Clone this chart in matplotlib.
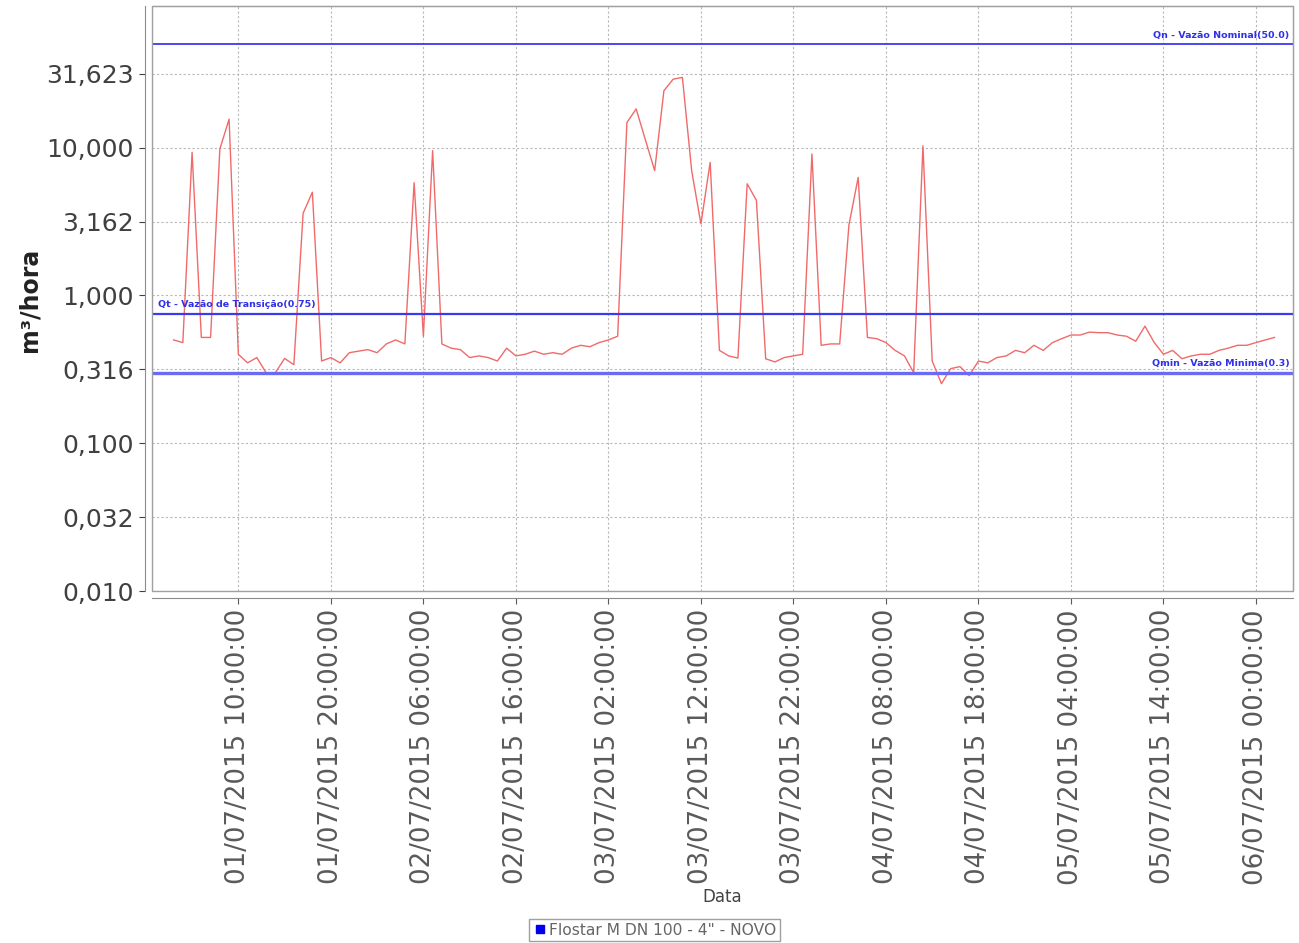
import matplotlib
matplotlib.use("Agg")
import matplotlib.pyplot as plt
import matplotlib.dates as mdates
from matplotlib.lines import Line2D
from matplotlib.patches import Rectangle
from matplotlib.ticker import FixedLocator, FuncFormatter, NullLocator
import pandas as pd

# Hourly flow readings (m³/h) starting 01/07/2015 03:00
first_reading = "2015-07-01 03:00"
flow = [
    0.50, 0.48, 9.3, 0.52, 0.52, 9.8, 15.6, 0.40, 0.35, 0.38,
    0.30, 0.30, 0.375, 0.34, 3.6, 5.0, 0.36, 0.38, 0.35, 0.41,
    0.42, 0.43, 0.41, 0.47, 0.50, 0.47, 5.8, 0.53, 9.55, 0.47,
    0.44, 0.43, 0.38, 0.39, 0.38, 0.36, 0.44, 0.39, 0.40, 0.42,
    0.40, 0.41, 0.40, 0.44, 0.46, 0.45, 0.48, 0.50, 0.53, 14.8,
    18.3, 11.3, 7.0, 24.3, 29.1, 29.9, 7.0, 3.05, 7.96, 0.425,
    0.39, 0.377, 5.7, 4.4, 0.373, 0.355, 0.38, 0.39, 0.40, 9.06,
    0.46, 0.47, 0.47, 3.0, 6.3, 0.52, 0.51, 0.48, 0.425, 0.39,
    0.30, 10.3, 0.36, 0.253, 0.32, 0.33, 0.287, 0.36, 0.35, 0.38,
    0.39, 0.425, 0.41, 0.46, 0.425, 0.48, 0.51, 0.54, 0.54, 0.565,
    0.56, 0.56, 0.54, 0.53, 0.49, 0.62, 0.48, 0.40, 0.425, 0.373,
    0.39, 0.40, 0.40, 0.425, 0.44, 0.46, 0.46, 0.48, 0.50, 0.52,
]

# Meter reference flows
ref_values = [50.0, 0.75, 0.3]
ref_labels = ["Qn - Vazão Nominal(50.0)",
              "Qt - Vazão de Transição(0.75)",
              "Qmin - Vazão Minima(0.3)"]

y_ticks = [0.01, 0.031623, 0.1, 0.316228, 1.0, 3.162278, 10.0, 31.622777]
x_ticks = pd.date_range("2015-07-01 10:00", "2015-07-06 00:00", freq="10h")
x_range = (pd.Timestamp("2015-07-01 00:40"), pd.Timestamp("2015-07-06 04:00"))
y_range = (0.01, 91.0)

series_name = 'Flostar M DN 100 - 4" - NOVO'

times = pd.date_range(first_reading, periods=len(flow), freq="h")

fig = plt.figure(figsize=(12.99, 9.43), dpi=100)
ax = fig.add_axes([152 / 1299, 1 - 591 / 943, 1141 / 1299, 585 / 943])

ax.plot(times, flow, color="#f06a6a", lw=1.0, zorder=3)

ax.set_yscale("log")
ax.set_ylim(*y_range)
ax.set_xlim(*x_range)

# reference lines with their captions
line_styles = [dict(color="#3a3af0", lw=1.3),
               dict(color="#3a3af0", lw=1.6),
               dict(color="#6a6af5", lw=2.4)]
for val, lab, st, pos in zip(ref_values, ref_labels, line_styles,
                             ["right", "left", "right"]):
    ax.axhline(val, zorder=4, **st)
    xf = 0.997 if pos == "right" else 0.005
    ax.annotate(lab, xy=(xf, val), xycoords=("axes fraction", "data"),
                xytext=(0, 3.5), textcoords="offset points",
                ha=pos, va="bottom", fontsize=6.8, fontweight="bold",
                color="#3030e8", zorder=5)

# axes styling
ax.yaxis.set_major_locator(FixedLocator(y_ticks))
ax.yaxis.set_minor_locator(NullLocator())
ax.yaxis.set_major_formatter(FuncFormatter(lambda v, p: f"{v:.3f}".replace(".", ",")))
ax.xaxis.set_major_locator(FixedLocator(mdates.date2num(x_ticks)))
ax.xaxis.set_major_formatter(mdates.DateFormatter("%d/%m/%Y %H:%M:%S"))

ax.tick_params(axis="y", labelsize=18, colors="#404040", length=4, width=0.8, pad=4)
ax.tick_params(axis="x", labelsize=18.7, colors="#5a5a5a", length=4, width=0.8,
               pad=4, labelrotation=90)

ax.grid(True, which="major", color="#b8b8b8", lw=0.8, linestyle=(0, (2, 2)))

for side in ["left", "bottom"]:
    ax.spines[side].set_position(("outward", 5))
    ax.spines[side].set_color("#8c8c8c")
for side in ["top", "right"]:
    ax.spines[side].set_color("#a0a0a0")
ax.add_patch(Rectangle((0, 0), 1, 1, transform=ax.transAxes, fill=False,
                       edgecolor="#a0a0a0", lw=1.0, clip_on=False, zorder=6))

ax.set_ylabel("m³/hora", fontsize=17, fontweight="bold", color="#222222", va="center")
ax.yaxis.set_label_coords(-0.107, 0.497)
ax.set_xlabel("Data", fontsize=12, color="#444444", va="center")
ax.xaxis.set_label_coords(0.5, -0.523)

handle = Line2D([], [], marker="s", color="#0000ee", linestyle="none", markersize=6)
leg = fig.legend([handle], [series_name], loc="lower center",
                 bbox_to_anchor=(0.504, 0.0), frameon=True, fancybox=False,
                 edgecolor="#888888", fontsize=11.2, handletextpad=0.2,
                 borderpad=0.25, handlelength=0.8, borderaxespad=0.1)
leg.get_frame().set_linewidth(1.0)
for t in leg.get_texts():
    t.set_color("#666666")

fig.savefig("out.png", dpi=100, facecolor="white")
